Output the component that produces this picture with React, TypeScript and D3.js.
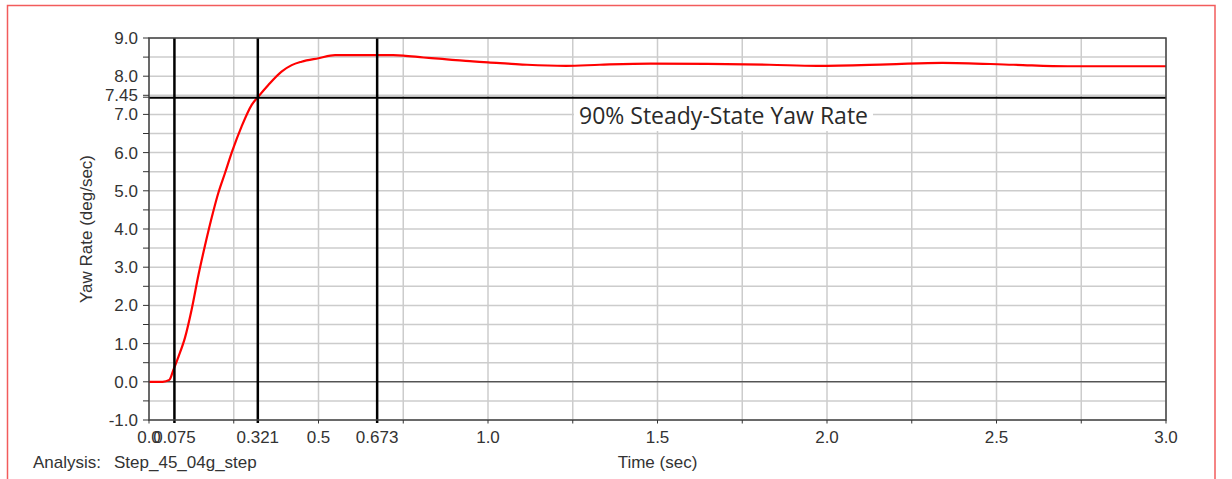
import * as d3 from "d3";

// step response
const timeSec = [
  0, 0.04, 0.06, 0.072, 0.087, 0.106, 0.126, 0.146, 0.165, 0.185, 0.204, 0.224,
  0.246, 0.273, 0.303, 0.322, 0.352, 0.391, 0.421, 0.45, 0.5, 0.549, 0.72, 0.75,
  0.81, 0.855, 0.905, 0.955, 1.0, 1.06, 1.115, 1.23, 1.33, 1.48, 1.83, 1.97,
  2.18, 2.34, 2.55, 2.71, 3.0,
];
const yawRate = [
  0, 0, 0.05, 0.31, 0.66, 1.15, 1.9, 2.8, 3.56, 4.3, 4.93, 5.46, 6.05, 6.68,
  7.25, 7.46, 7.77, 8.12, 8.29, 8.38, 8.47, 8.55, 8.55, 8.54, 8.49, 8.46, 8.42,
  8.39, 8.36, 8.33, 8.3, 8.27, 8.3, 8.33, 8.3, 8.27, 8.31, 8.35, 8.3, 8.26, 8.26,
];

const markerTimes = [0.075, 0.321, 0.673];
const steadyLevel = 7.45;
const xTickLabels = [0, 0.5, 1.0, 1.5, 2.0, 2.5, 3.0];
const yTickLabels = [-1, 0, 1, 2, 3, 4, 5, 6, 7, 8, 9];
const annotation = "90% Steady-State Yaw Rate";

const W = 1232;
const H = 479;
const font = "'Liberation Sans', Arial, sans-serif";
const fs = 17;
const textColor = "#333";

const App = () => {
  const x = d3.scaleLinear().domain([0, 3]).range([149, 1166]);
  const y = d3.scaleLinear().domain([-1, 9]).range([420, 38]);

  const xGrid = d3.range(0, 3.001, 0.25);
  const yGrid = d3.range(-1, 9.001, 0.5);

  const line = d3
    .line<number>()
    .x((_, i) => x(timeSec[i]))
    .y((d) => y(d))
    .curve(d3.curveMonotoneX);

  const [x0, x1] = x.range();
  const [y0, y1] = y.range();

  return (
    <div style={{ position: "absolute", left: 0, top: 0 }}>
      <svg width={W} height={H} style={{ display: "block", background: "#fff" }}>
        {/* outer red frame */}
        <rect x={7.5} y={5.5} width={1207.5} height={500} fill="none" stroke="#f25c5c" strokeWidth={1.5} />

        {/* grid */}
        {xGrid.map((t) => (
          <line key={"gx" + t} x1={x(t)} x2={x(t)} y1={y1} y2={y0} stroke="#cccccc" strokeWidth={1.5} />
        ))}
        {yGrid.map((v) => (
          <line key={"gy" + v} x1={x0} x2={x1} y1={y(v)} y2={y(v)} stroke="#cccccc" strokeWidth={1.5} />
        ))}

        {/* zero line */}
        <line x1={x0} x2={x1} y1={y(0)} y2={y(0)} stroke="#222" strokeWidth={1} />

        {/* annotation box */}
        <rect x={574} y={99} width={299} height={32} fill="#fff" />
        <text
          x={579}
          y={124}
          fontFamily="'Open Sans', 'Noto Sans', sans-serif"
          fontSize={23}
          fill="#2a2a2a"
        >
          {annotation}
        </text>

        {/* curve */}
        <path d={line(yawRate) ?? ""} fill="none" stroke="#ff0000" strokeWidth={2.2} strokeLinejoin="round" />

        {/* 90% steady-state line */}
        <line x1={x0} x2={x1} y1={y(steadyLevel) + 0.5} y2={y(steadyLevel) + 0.5} stroke="#000" strokeWidth={2} />

        {/* marker verticals */}
        {markerTimes.map((t) => (
          <line key={"m" + t} x1={x(t)} x2={x(t)} y1={y1} y2={y0 + 3} stroke="#000" strokeWidth={2.5} />
        ))}

        {/* plot frame */}
        <rect x={x0} y={y1} width={x1 - x0} height={y0 - y1} fill="none" stroke="#444" strokeWidth={1.5} />

        {/* y ticks */}
        {yGrid.concat([steadyLevel]).map((v) => (
          <line key={"ty" + v} x1={x0 - 6} x2={x0} y1={y(v)} y2={y(v)} stroke="#333" strokeWidth={1} />
        ))}
        {yTickLabels.map((v) => (
          <text
            key={"ly" + v}
            x={138}
            y={y(v) + 6}
            textAnchor="end"
            fontFamily={font}
            fontSize={fs}
            fill={textColor}
          >
            {v.toFixed(1)}
          </text>
        ))}
        <text x={138} y={y(steadyLevel) + 4} textAnchor="end" fontFamily={font} fontSize={fs} fill={textColor}>
          {steadyLevel.toFixed(2)}
        </text>

        {/* x ticks */}
        {xGrid.map((t) => (
          <line key={"tx" + t} x1={x(t)} x2={x(t)} y1={y0} y2={y0 + 3.5} stroke="#333" strokeWidth={1} />
        ))}
        {xTickLabels.map((t) => (
          <text
            key={"lx" + t}
            x={x(t)}
            y={443}
            textAnchor="middle"
            fontFamily={font}
            fontSize={fs}
            fill={textColor}
          >
            {t.toFixed(1)}
          </text>
        ))}
        {markerTimes.map((t) => (
          <text
            key={"lm" + t}
            x={x(t)}
            y={443}
            textAnchor="middle"
            fontFamily={font}
            fontSize={fs}
            fill={textColor}
          >
            {String(t)}
          </text>
        ))}

        {/* axis titles */}
        <text x={(x0 + x1) / 2} y={468} textAnchor="middle" fontFamily={font} fontSize={fs} fill={textColor}>
          Time (sec)
        </text>
        <text
          transform={`translate(92,${(y0 + y1) / 2}) rotate(-90)`}
          textAnchor="middle"
          fontFamily={font}
          fontSize={fs}
          fill={textColor}
        >
          Yaw Rate (deg/sec)
        </text>
        <text x={33} y={468} fontFamily={font} fontSize={fs} fill={textColor}>
          Analysis:
        </text>
        <text x={114} y={468} fontFamily={font} fontSize={fs} fill={textColor}>
          Step_45_04g_step
        </text>
      </svg>
    </div>
  );
};

export default App;
